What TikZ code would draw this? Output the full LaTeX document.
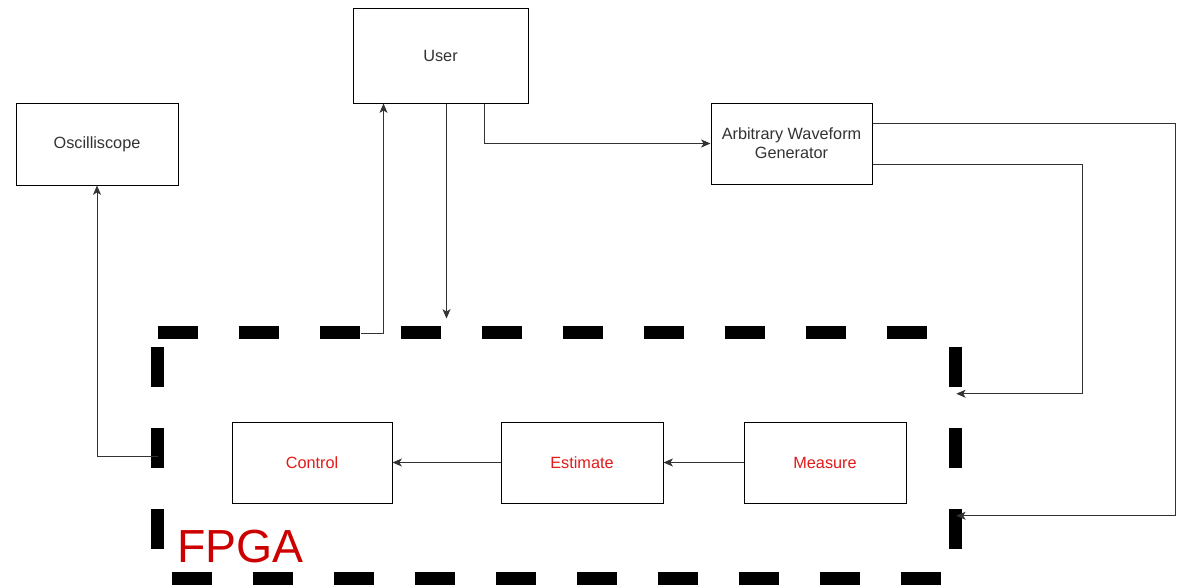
\documentclass[tikz,border=0pt]{standalone}
\usepackage{fontspec}
\setmainfont{Liberation Sans}
\usetikzlibrary{arrows.meta,calc}
\definecolor{txtgray}{HTML}{333333}
\definecolor{linegray}{HTML}{333333}
\definecolor{innerred}{HTML}{E21A1A}
\definecolor{fpgared}{HTML}{CC0000}
\tikzset{
  box/.style={draw=black,line width=0.75pt,fill=white,inner sep=2pt,align=center,
    font=\fontsize{12.2}{14}\selectfont,text=txtgray},
  inbox/.style={box,text=innerred,minimum width=121.5pt,minimum height=60.75pt},
  arr/.style={draw=linegray,line width=0.75pt,-{Stealth[length=7pt,width=6pt,inset=1.8pt]}},
  fpgaedge/.style={draw=black,line width=9.75pt,dash pattern=on 30pt off 30.75pt},
  fpgaedgeoff/.style={fpgaedge,dash phase=50.25pt}
}
\begin{document}
\begin{tikzpicture}[x=0.75pt,y=-0.75pt]
\useasboundingbox (0,0) rectangle (1182,587);
% FPGA area
\node[minimum width=597.75pt,minimum height=183.75pt,inner sep=0pt] (fpga) at (556.5,455.5) {};
\draw[fpgaedge] (fpga.north west) -- (fpga.north east);
\draw[fpgaedgeoff] (fpga.north west) -- (fpga.south west);
\draw[fpgaedgeoff] (fpga.north east) -- (fpga.south east);
\draw[fpgaedgeoff] (fpga.south west) -- (fpga.south east);
\node[anchor=base west,inner sep=0pt,text=fpgared,font=\fontsize{34.8}{40}\selectfont] (fpgalabel) at (177,562) {FPGA};
% boxes
\node[box,minimum width=131.25pt,minimum height=71.25pt] (user) at (440.5,55.5) {User};
\node[box,minimum width=121.5pt,minimum height=61.5pt] (osc) at (97,144) {Oscilliscope};
\node[box,minimum width=120.75pt,minimum height=60.75pt] (awg) at (791.5,143.5) {Arbitrary Waveform\\Generator};
\node[inbox,minimum width=120pt] (control) at (312,462.5) {Control};
\node[inbox] (estimate) at (582,462.5) {Estimate};
\node[inbox] (measure) at (825,462.5) {Measure};
% free ends
\coordinate (f2u) at (361,333);
\coordinate (f2o) at (158,456);
% connectors
\draw[arr] (f2u) -| ($(user.south west)+(31,0)$);
\draw[arr] ($(user.south west)+(94,0)$) -- ++(0,215);
\draw[arr] ($(user.south west)+(132,0)$) |- (awg.west);
\draw[arr] (f2o) -| (osc.south);
\draw[arr] ($(awg.east)+(0,20.5)$) -- ++(209.5,0) |- ($(fpga.north east)+(1,61)$);
\draw[arr] ($(awg.east)+(0,-20.5)$) -- ++(303,0) |- ($(fpga.north east)+(1,183)$);
\draw[arr] (measure) -- (estimate);
\draw[arr] (estimate) -- (control);
\end{tikzpicture}
\end{document}
